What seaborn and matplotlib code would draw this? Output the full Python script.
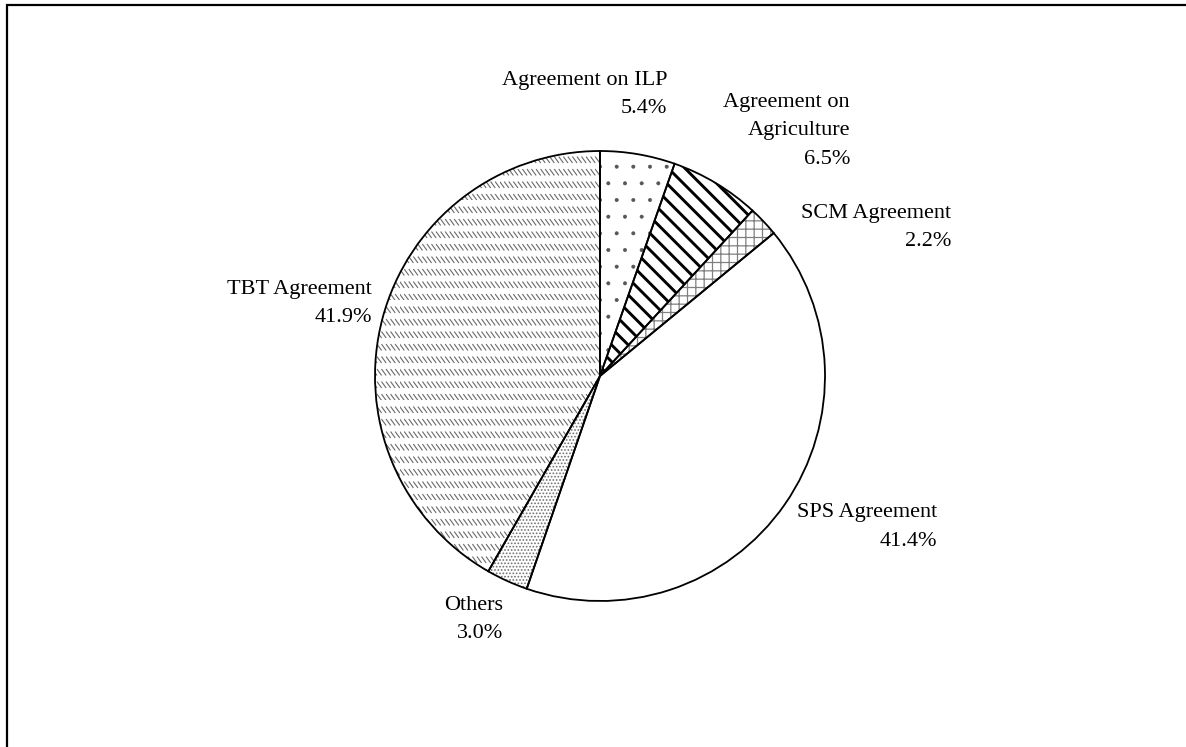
import warnings
import numpy as np
import matplotlib
matplotlib.use("Agg")
import matplotlib.pyplot as plt
import matplotlib.hatch as mhatch
from matplotlib.path import Path
from matplotlib.patches import Rectangle
import seaborn as sns

warnings.filterwarnings("ignore", category=matplotlib.MatplotlibDeprecationWarning)

# slices, clockwise from 12 o'clock
categories = ["Agreement on ILP", "Agreement on\nAgriculture", "SCM Agreement",
              "SPS Agreement", "Others", "TBT Agreement"]
shares = [5.4, 6.5, 2.2, 41.4, 3.0, 41.9]

# hatch styles ('d' = rows of short diagonal dashes, defined below)
hatches = [".", "\\\\", "++", "", ".....", "d"]
hatch_colors = ["#555555", "black", "#808080", "black", "#707070", "#6a6a6a"]
hatch_widths = [0.4, 2.1, 0.9, 1.0, 0.8, 0.8]

# label anchors (right edge, vertical centre) in pie data units
label_pos = [(0.298, 1.251), (1.111, 1.089), (1.560, 0.660),
             (1.498, -0.671), (-0.431, -1.084), (-1.013, 0.324)]


class DashRows(mhatch.HatchPatternBase):
    # Excel-like "dashed downward diagonal" fill
    def __init__(self, hatch, density):
        n = hatch.count("d")
        self.rows = 8 * n
        self.cols = 22 * n
        self.num_vertices = 2 * self.rows * self.cols

    def set_vertices_and_codes(self, vertices, codes):
        xs, ys = np.meshgrid(np.arange(self.cols) / self.cols,
                             np.arange(self.rows) / self.rows)
        xs, ys = xs.ravel(), ys.ravel()
        vertices[0::2, 0] = xs
        vertices[0::2, 1] = ys + 0.055
        vertices[1::2, 0] = xs + 0.04
        vertices[1::2, 1] = ys
        codes[0::2] = Path.MOVETO
        codes[1::2] = Path.LINETO


mhatch._hatch_types.append(DashRows)


def PieChart():
    sns.set_theme(style="white")
    plt.rcParams["font.family"] = ["Liberation Serif", "DejaVu Serif"]

    fig = plt.figure(figsize=(11.86, 7.47), dpi=100)
    fig.patches.append(Rectangle((6.5 / 1186, -0.1), 1.2, (747 - 4.5) / 747 + 0.1,
                                 transform=fig.transFigure, fill=False,
                                 edgecolor="black", linewidth=1.6))

    cx, cy, r = 600, 376, 225
    ax = fig.add_axes([(cx - r) / 1186, (747 - cy - r) / 747, 2 * r / 1186, 2 * r / 747])

    # hatched fill
    wedges, _ = ax.pie(shares, startangle=90, counterclock=False, radius=1,
                       wedgeprops=dict(linewidth=0, facecolor="white"))
    for w, h, c, lw in zip(wedges, hatches, hatch_colors, hatch_widths):
        w.set_hatch(h)
        w.set_edgecolor(c)
        if hasattr(w, "set_hatch_linewidth"):
            w.set_hatch_linewidth(lw)

    # outlines
    ax.pie(shares, startangle=90, counterclock=False, radius=1,
           wedgeprops=dict(linewidth=1.3, edgecolor="black", fill=False))

    for cat, val, (x, y) in zip(categories, shares, label_pos):
        ax.text(x, y, f"{cat}\n{val:.1f}%", ha="right", va="center",
                multialignment="right", fontsize=16, linespacing=1.65,
                color="black", clip_on=False)

    ax.set_xlim(-1, 1)
    ax.set_ylim(-1, 1)
    ax.set_aspect("equal")
    ax.axis("off")

    fig.savefig("out.png", dpi=100)


PieChart()
